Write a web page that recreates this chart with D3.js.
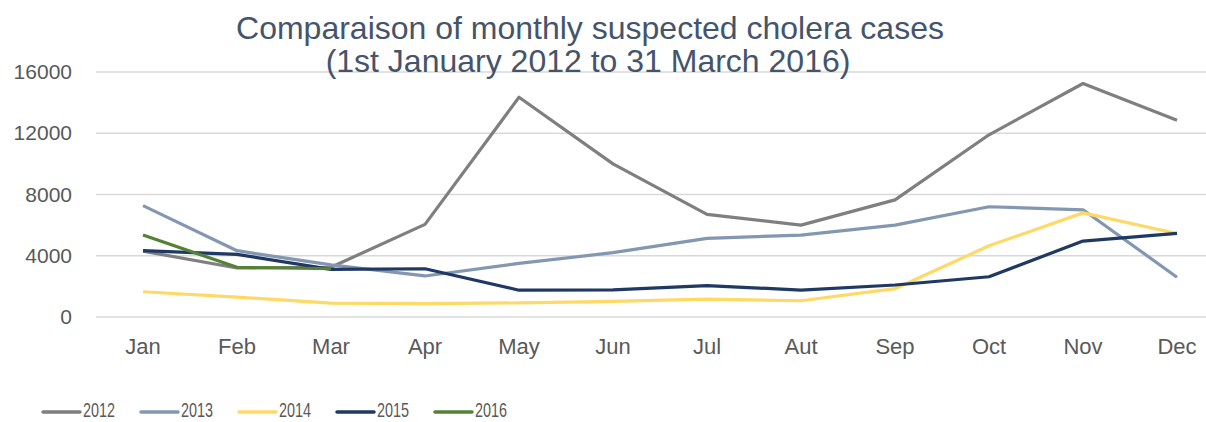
<!DOCTYPE html>
<html>
<head>
<meta charset="utf-8">
<script src="https://cdn.jsdelivr.net/npm/d3@7"></script>
<style>
  html, body { margin: 0; padding: 0; background: #fff; }
  svg { display: block; }
</style>
</head>
<body>
<div id="chart"></div>
<script>
const months = ["Jan", "Feb", "Mar", "Apr", "May", "Jun", "Jul", "Aut", "Sep", "Oct", "Nov", "Dec"]
const yTicks = [0, 4000, 8000, 12000, 16000]

const cases2012 = [4300, 3200, 3250, 6050, 14350, 10000, 6700, 6000, 7650, 11900, 15250, 12850]
const cases2013 = [7270, 4330, 3400, 2680, 3500, 4200, 5140, 5350, 6000, 7200, 7000, 2600]
const cases2014 = [1650, 1300, 900, 880, 920, 1020, 1170, 1060, 1850, 4650, 6800, 5450]
const cases2015 = [4330, 4090, 3110, 3150, 1750, 1770, 2050, 1760, 2090, 2630, 4960, 5460]
const cases2016 = [5350, 3250, 3150]

const years = ["2012", "2013", "2014", "2015", "2016"]
const colors = ["#7f7f7f", "#8497b0", "#ffd966", "#1f3864", "#548235"]
const allSeries = [cases2012, cases2013, cases2014, cases2015, cases2016]

const width = 1206, height = 422
const plot = { left: 96, right: 1224, top: 72, bottom: 317 }

const svg = d3.select("#chart").append("svg")
  .attr("width", width).attr("height", height)
  .attr("viewBox", `0 0 ${width} ${height}`)

const x = d3.scaleBand().domain(months).range([plot.left, plot.right])
const y = d3.scaleLinear().domain([0, 16000]).range([plot.bottom, plot.top])
const xc = d => x(d) + x.bandwidth() / 2

// gridlines
svg.append("g")
  .selectAll("line")
  .data(yTicks)
  .join("line")
  .attr("x1", plot.left).attr("x2", width)
  .attr("y1", d => y(d)).attr("y2", d => y(d))
  .attr("stroke", "#d9d9d9").attr("stroke-width", 1.3)

// y axis labels
svg.append("g")
  .attr("transform", `translate(${plot.left - 24},0)`)
  .call(d3.axisLeft(y).tickValues(yTicks).tickFormat(d3.format("d")).tickSize(0).tickPadding(0))
  .call(g => g.select(".domain").remove())
  .call(g => g.selectAll(".tick text")
    .attr("font-family", "Liberation Sans, Arial, sans-serif")
    .attr("font-size", 21).attr("fill", "#595959"))

// x axis labels
svg.append("g")
  .attr("transform", `translate(0,${plot.bottom})`)
  .call(d3.axisBottom(x).tickSize(0).tickPadding(21))
  .call(g => g.select(".domain").remove())
  .call(g => g.selectAll(".tick text")
    .attr("font-family", "Liberation Sans, Arial, sans-serif")
    .attr("font-size", 22).attr("fill", "#595959"))

// lines
const line = d3.line()
  .x((d, i) => xc(months[i]))
  .y(d => y(d))

svg.append("g")
  .selectAll("path")
  .data(allSeries)
  .join("path")
  .attr("d", d => line(d))
  .attr("fill", "none")
  .attr("stroke", (d, i) => colors[i])
  .attr("stroke-width", 3.2)
  .attr("stroke-linejoin", "round")

// title
const title = svg.append("text")
  .attr("text-anchor", "middle")
  .attr("font-family", "Liberation Sans, Arial, sans-serif")
  .attr("font-size", 32)
  .attr("fill", "#44546a")
title.append("tspan").attr("x", 590).attr("y", 39).text("Comparaison of monthly suspected cholera cases")
title.append("tspan").attr("x", 588).attr("y", 72).text("(1st January 2012 to 31 March 2016)")

// legend
const legend = svg.append("g")
  .selectAll("g")
  .data(years)
  .join("g")
  .attr("transform", (d, i) => `translate(${43 + i * 98},412)`)

legend.append("line")
  .attr("x1", 0).attr("x2", 37)
  .attr("stroke", (d, i) => colors[i])
  .attr("stroke-width", 3.5)
  .attr("stroke-linecap", "round")

// narrow legend font: squeeze the text to the reference width
legend.append("text")
  .attr("x", 40).attr("y", 5)
  .attr("font-family", "Liberation Sans Narrow, Arial Narrow, sans-serif")
  .attr("font-size", 21)
  .attr("textLength", 32)
  .attr("lengthAdjust", "spacingAndGlyphs")
  .attr("fill", "#595959")
  .text(d => d)
</script>
</body>
</html>
